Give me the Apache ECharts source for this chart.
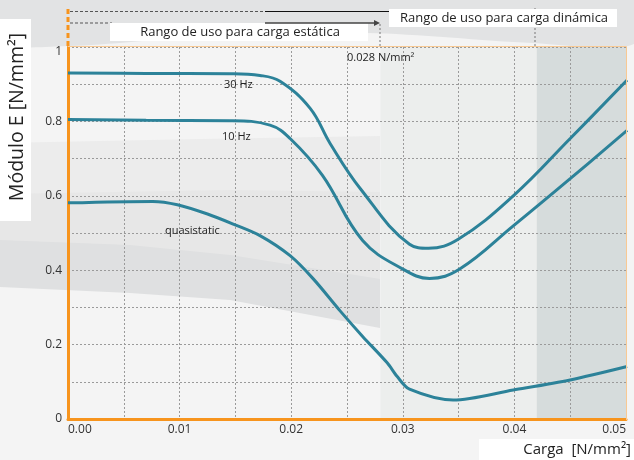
<!DOCTYPE html>
<html><head><meta charset="utf-8">
<script src="https://cdn.jsdelivr.net/npm/echarts@6/dist/echarts.min.js"></script>
<style>html,body{margin:0;padding:0;background:#f4f4f4}#c{width:634px;height:460px}</style>
</head><body><div id="c"></div>
<script>
// ---- data ----
const xTickLabels = ['0.00','0.01','0.02','0.03','0.04','0.05'];
const yTickLabels = ['0','0.2','0.4','0.6','0.8','1'];
const seriesNames = ['30 Hz','10 Hz','quasistatic'];

const x30 = [0, 0.007, 0.0145, 0.0172, 0.0190, 0.0217, 0.0235, 0.0262, 0.0306, 0.0323, 0.0350, 0.0399, 0.0450, 0.0501];
const y30 = [0.930, 0.929, 0.928, 0.9235, 0.908, 0.835, 0.740, 0.619, 0.470, 0.459, 0.484, 0.600, 0.754, 0.911];

const x10 = [0, 0.007, 0.0145, 0.0181, 0.0199, 0.0228, 0.0264, 0.0300, 0.0324, 0.0351, 0.0399, 0.0450, 0.0501];
const y10 = [0.805, 0.803, 0.802, 0.790, 0.754, 0.655, 0.480, 0.403, 0.378, 0.403, 0.519, 0.646, 0.776];

const xQs = [0, 0.0076, 0.0098, 0.0125, 0.0148, 0.0172, 0.0199, 0.0220, 0.0244, 0.0264, 0.0286, 0.0295, 0.0306, 0.0345, 0.0399, 0.0450, 0.0501];
const yQs = [0.581, 0.585, 0.576, 0.551, 0.524, 0.493, 0.439, 0.376, 0.290, 0.222, 0.151, 0.114, 0.080, 0.051, 0.078, 0.105, 0.141];

const zoneStart = [0.028, 0.042];
const zoneEnd = [0.042, 0.05];

// ---- chart ----
const FONT = 'Open Sans';
const LINE = '#2c8299';
const ORANGE = '#f7941d';
const pairs = (xs, ys) => xs.map((x, i) => [x, ys[i]]);
const chart = echarts.init(document.getElementById('c'), null, {renderer: 'canvas'});

function lineSeries(name, xs, ys, s) {
  return {
    name, type: 'line', data: pairs(xs, ys), smooth: s, symbol: 'none', z: 3,
    lineStyle: {color: LINE, width: 3}
  };
}

const bg = [
  {type: 'polygon', z: -20, shape: {points: [[0,0],[634,0],[634,44],[533,43],[367,33],[200,37],[68,46],[0,42]], smooth: 0.3}, style: {fill: '#e2e3e4'}},
  {type: 'polygon', z: -19, shape: {points: [[0,143],[200,139],[380,136],[380,420],[0,420]]}, style: {fill: '#ececec'}},
  {type: 'polygon', z: -18, shape: {points: [[0,194],[230,190],[380,192],[380,420],[0,420]]}, style: {fill: '#e7e7e7'}},
  {type: 'polygon', z: -17, shape: {points: [[0,240],[130,245],[230,255],[380,279],[380,420],[0,420]]}, style: {fill: '#dfe0e1'}},
  {type: 'polygon', z: -16, shape: {points: [[0,287],[130,293],[230,300],[380,328],[380,420],[0,420]]}, style: {fill: '#f4f4f4'}},
];

const deco = [
  {type: 'polyline', z: 20, shape: {points: [[68,46.5],[626.5,46.5],[626.5,420]]}, style: {stroke: '#f8c993', lineWidth: 1, fill: null}},
  {type: 'line', z: 20, shape: {x1: 68, y1: 9, x2: 68, y2: 46}, style: {stroke: ORANGE, lineWidth: 3, lineDash: [5,3]}},
  {type: 'line', z: 20, shape: {x1: 70, y1: 11.5, x2: 265, y2: 11.5}, style: {stroke: '#555', lineWidth: 1.2, lineDash: [3,2]}},
  {type: 'line', z: 20, shape: {x1: 265, y1: 11.5, x2: 392, y2: 11.5}, style: {stroke: '#111', lineWidth: 1.2}},
  {type: 'line', z: 20, shape: {x1: 70, y1: 23, x2: 112, y2: 23}, style: {stroke: '#555', lineWidth: 1.2, lineDash: [3,2]}},
  {type: 'rect', z: 21, shape: {x: 110, y: 23, width: 258, height: 18}, style: {fill: '#ffffff'}},
  {type: 'line', z: 22, shape: {x1: 265, y1: 23, x2: 377, y2: 23}, style: {stroke: '#444', lineWidth: 1.5}},
  {type: 'polygon', z: 22, shape: {points: [[374,20],[380,23],[374,26]]}, style: {fill: '#444'}},
  {type: 'line', z: 20, shape: {x1: 380, y1: 24, x2: 380, y2: 46}, style: {stroke: '#777', lineWidth: 1, lineDash: [2,2]}},
  {type: 'line', z: 20, shape: {x1: 535, y1: 8, x2: 535, y2: 46}, style: {stroke: '#777', lineWidth: 1, lineDash: [2,2]}},
  {type: 'rect', z: 21, shape: {x: 389, y: 9, width: 228, height: 18}, style: {fill: '#ffffff'}},
  {type: 'text', z: 23, x: 504, y: 18, style: {text: 'Rango de uso para carga dinámica', font: '13px "' + FONT + '"', fill: '#222', align: 'center', verticalAlign: 'middle'}},
  {type: 'text', z: 23, x: 240, y: 32.5, style: {text: 'Rango de uso para carga estática', font: '13px "' + FONT + '"', fill: '#222', align: 'center', verticalAlign: 'middle'}},
  {type: 'rect', z: 21, shape: {x: 0, y: 19, width: 31, height: 202}, style: {fill: '#ffffff'}},
  {type: 'text', z: 23, x: 17, y: 117, rotation: Math.PI / 2, style: {text: 'Módulo E [N/mm²]', font: '19.5px "' + FONT + '"', fill: '#222', align: 'center', verticalAlign: 'middle'}},
  {type: 'rect', z: 21, shape: {x: 479, y: 439, width: 155, height: 21}, style: {fill: '#ffffff'}},
  {type: 'text', z: 23, x: 631, y: 450, style: {text: 'Carga  [N/mm²]', font: '15px "' + FONT + '"', fill: '#222', align: 'right', verticalAlign: 'middle'}},
  {type: 'text', z: 23, x: 224, y: 85, style: {text: seriesNames[0], font: '11px "' + FONT + '"', fill: '#222', verticalAlign: 'middle'}},
  {type: 'text', z: 23, x: 222, y: 137, style: {text: seriesNames[1], font: '11px "' + FONT + '"', fill: '#222', verticalAlign: 'middle'}},
  {type: 'text', z: 23, x: 165, y: 231, style: {text: seriesNames[2], font: '11px "' + FONT + '"', fill: '#222', verticalAlign: 'middle'}},
  {type: 'text', z: 23, x: 347, y: 58, style: {text: '0.028 N/mm²', font: '11px "' + FONT + '"', fill: '#222', verticalAlign: 'middle'}},
];

const gridLineStyle = {color: '#9a9a9a', width: 1, type: [2, 2]};

chart.setOption({
  animation: false,
  backgroundColor: '#f4f4f4',
  textStyle: {fontFamily: FONT},
  grid: {left: 68, right: 8, top: 47, bottom: 41},
  xAxis: {
    type: 'value', min: 0, max: 0.05, interval: 0.01,
    axisLine: {show: true, lineStyle: {color: ORANGE, width: 3}},
    axisTick: {show: false},
    axisLabel: {color: '#333', fontSize: 12, margin: 5, formatter: v => xTickLabels[Math.round(v / 0.01)], alignMinLabel: 'left', alignMaxLabel: 'right'},
    splitLine: {show: true, lineStyle: gridLineStyle},
    minorTick: {show: false, splitNumber: 2},
    minorSplitLine: {show: true, lineStyle: gridLineStyle}
  },
  yAxis: {
    type: 'value', min: 0, max: 1, interval: 0.2,
    axisLine: {show: true, lineStyle: {color: ORANGE, width: 3}},
    axisTick: {show: false},
    axisLabel: {
      color: '#333', fontSize: 12, margin: 6,
      formatter: v => { const t = yTickLabels[Math.round(v / 0.2)]; return v === 1 ? '{top|' + t + '}' : t; },
      rich: {top: {fontSize: 12, color: '#333', padding: [10, 0, 0, 0]}}
    },
    splitLine: {show: true, lineStyle: gridLineStyle},
    minorTick: {show: false, splitNumber: 2},
    minorSplitLine: {show: true, lineStyle: gridLineStyle}
  },
  graphic: bg.concat(deco),
  series: [
    {
      name: 'zones', type: 'line', data: [], z: -1,
      markArea: {
        z: -1, silent: true, label: {show: false},
        data: [
          [{xAxis: zoneStart[0], itemStyle: {color: '#eceeed'}}, {xAxis: zoneEnd[0]}],
          [{xAxis: zoneStart[1], itemStyle: {color: '#d6dcdc'}}, {xAxis: zoneEnd[1]}]
        ]
      }
    },
    lineSeries(seriesNames[0], x30, y30, 0.4),
    lineSeries(seriesNames[1], x10, y10, 0.4),
    lineSeries(seriesNames[2], xQs, yQs, 0.3)
  ]
});
</script>
</body></html>
